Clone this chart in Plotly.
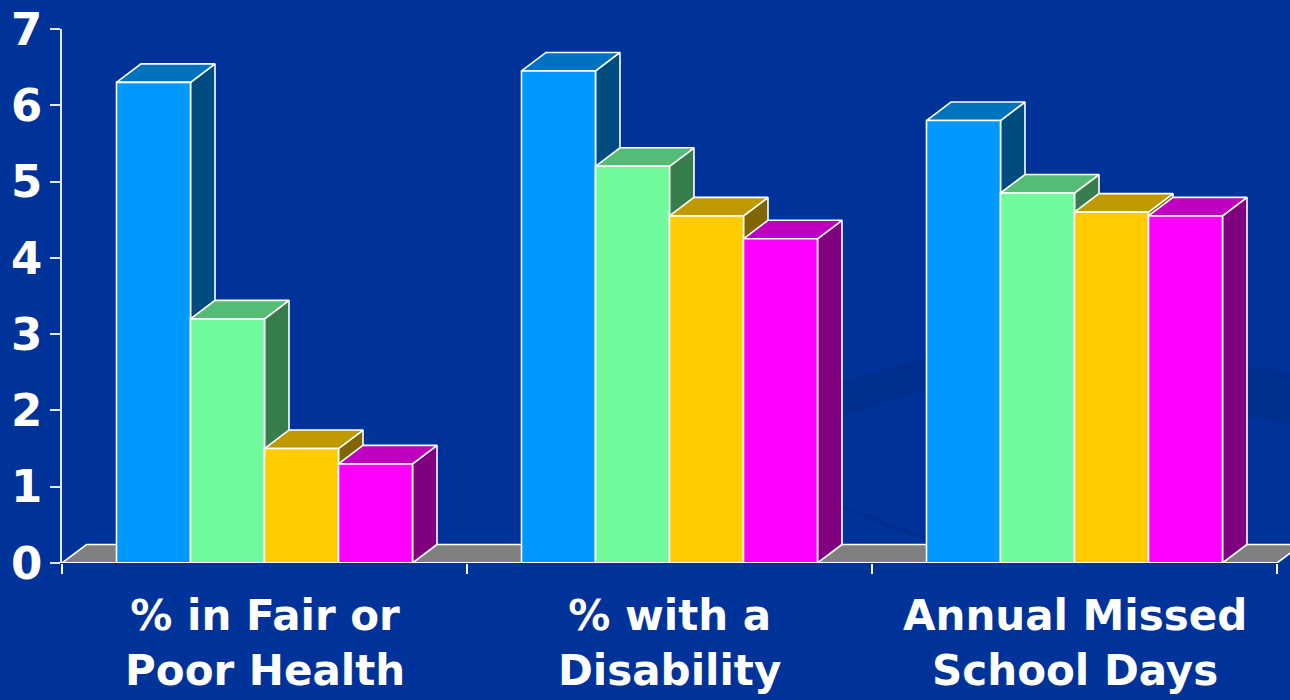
import plotly.graph_objects as go

# ---- data ----
categories = ["% in Fair or<br>Poor Health", "% with a<br>Disability", "Annual Missed<br>School Days"]
blue_vals = [6.3, 6.45, 5.8]
green_vals = [3.2, 5.2, 4.85]
yellow_vals = [1.5, 4.55, 4.6]
magenta_vals = [1.3, 4.25, 4.55]
y_tick_vals = [0, 1, 2, 3, 4, 5, 6, 7]

series = [blue_vals, green_vals, yellow_vals, magenta_vals]
front_rgb = [(0, 153, 255), (112, 250, 155), (255, 204, 0), (255, 0, 255)]

BG = "#003399"
FONT = "DejaVu Sans"

# geometry (data units): 405 px per category, 76.3 px per y unit
bar_w = 74 / 405
group_w = 4 * bar_w
dx = 24.5 / 405
dy = 18.5 / 76.3


def shade(rgb, f):
    return "rgb(%d,%d,%d)" % tuple(int(round(c * f)) for c in rgb)


def poly(pts, color):
    xs = [p[0] for p in pts] + [pts[0][0]]
    ys = [p[1] for p in pts] + [pts[0][1]]
    return go.Scatter(x=xs, y=ys, mode="lines", fill="toself", fillcolor=color,
                      line=dict(color="white", width=1.6), hoverinfo="skip",
                      showlegend=False)


traces = []
# floor
x_left, x_right = -0.5, len(categories) - 0.5
traces.append(poly([(x_left, 0), (x_right, 0), (x_right + dx, dy), (x_left + dx, dy)], "#808080"))

for c in range(len(categories)):
    for j, vals in enumerate(series):
        h = vals[c]
        x0 = c - group_w / 2 + j * bar_w
        x1 = x0 + bar_w
        rgb = front_rgb[j]
        traces.append(poly([(x1, 0), (x1 + dx, dy), (x1 + dx, h + dy), (x1, h)], shade(rgb, 0.5)))
        traces.append(poly([(x0, h), (x1, h), (x1 + dx, h + dy), (x0 + dx, h + dy)], shade(rgb, 0.75)))
        traces.append(poly([(x0, 0), (x1, 0), (x1, h), (x0, h)], shade(rgb, 1.0)))

fig = go.Figure(traces)

x_max = -0.5 + (1290 - 62) / 405


# faint background swoosh (decorative, in paper coordinates)
def px(x, y):
    return "%.4f,%.4f" % ((x - 62) / 1228, (563 - y) / 534)


band = ("M " + px(600, 460) + " Q " + px(760, 405) + " " + px(926, 357) +
        " Q " + px(1100, 345) + " " + px(1290, 372) +
        " L " + px(1290, 425) + " Q " + px(1100, 385) + " " + px(926, 390) +
        " Q " + px(760, 440) + " " + px(600, 500) + " Z")
arc = "M " + px(760, 470) + " Q " + px(860, 520) + " " + px(1000, 562)

fig.update_layout(
    width=1290, height=700,
    margin=dict(l=62, r=0, t=29, b=137),
    paper_bgcolor=BG, plot_bgcolor=BG,
    showlegend=False,
    xaxis=dict(range=[-0.5, x_max], showgrid=False, zeroline=False, showline=False,
               tickvals=[-0.5, 0.5, 1.5, 2.5], ticks="outside", ticklen=10,
               tickwidth=2, tickcolor="white", showticklabels=False, fixedrange=True),
    yaxis=dict(range=[0, 7], tickvals=y_tick_vals, showgrid=False, zeroline=False,
               showline=True, linecolor="#e8e8f0", linewidth=1.5,
               ticks="outside", ticklen=10, tickwidth=1.5, tickcolor="#e8e8f0",
               ticklabelstandoff=-1,
               tickfont=dict(family=FONT, size=45, color="white", weight="bold"),
               fixedrange=True),
    shapes=[
        dict(type="path", xref="paper", yref="paper", path=band,
             fillcolor="rgba(0,35,120,0.25)", line=dict(width=0), layer="below"),
        dict(type="path", xref="paper", yref="paper", path=arc,
             line=dict(color="rgba(0,35,120,0.3)", width=4), layer="below"),
        dict(type="line", xref="x", yref="y", x0=-0.5, x1=2.5, y0=0, y1=0,
             line=dict(color="white", width=2), layer="above"),
    ],
)

for i, cat in enumerate(categories):
    fig.add_annotation(x=i, xref="x", y=0, yref="paper", yanchor="top", yshift=-26,
                       text=cat, showarrow=False, align="center",
                       font=dict(family=FONT, size=42, color="white", weight="bold"))

fig.write_html("out.html")
